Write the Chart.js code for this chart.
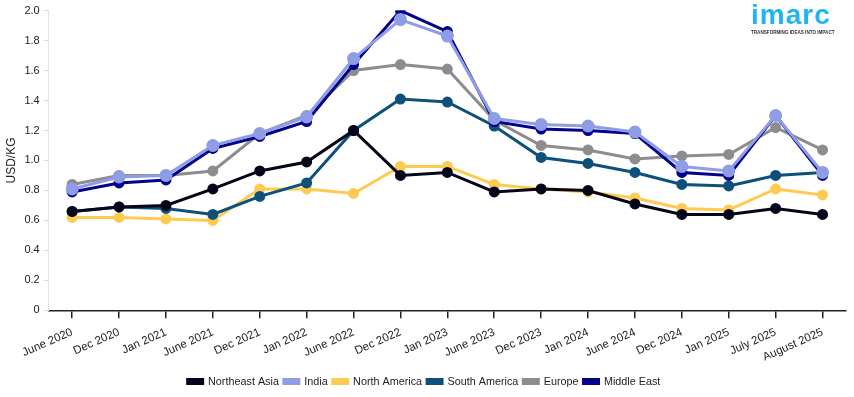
<!DOCTYPE html>
<html>
<head>
<meta charset="utf-8">
<script src="https://cdn.jsdelivr.net/npm/chart.js@4"></script>
<style>
  html, body { margin: 0; padding: 0; background: #fff; }
  #wrap { position: relative; width: 854px; height: 397px; }
  #logo { position: absolute; left: 751px; top: 0px; font-family: "Liberation Sans", Arial, sans-serif; }
  #logo .word { color: #1fb5ee; font-size: 28px; font-weight: bold; letter-spacing: 1px; line-height: 30px; }
  #logo .tag { color: #333; font-size: 4.6px; font-weight: bold; margin-top: 0px; white-space: nowrap; }
</style>
</head>
<body>
<div id="wrap">
  <canvas id="chart" width="854" height="397"></canvas>
  <div id="logo"><div class="word">imarc</div><div class="tag">TRANSFORMING IDEAS INTO IMPACT</div></div>
</div>
<script>
// periods on the x axis
const periods = ['June 2020', 'Dec 2020', 'Jan 2021', 'June 2021', 'Dec 2021', 'Jan 2022',
  'June 2022', 'Dec 2022', 'Jan 2023', 'June 2023', 'Dec 2023', 'Jan 2024', 'June 2024',
  'Dec 2024', 'Jan 2025', 'July 2025', 'August 2025'];

// prices, USD/KG
const northeastAsia = [0.66, 0.69, 0.70, 0.81, 0.93, 0.99, 1.20, 0.90, 0.92, 0.79, 0.81, 0.80, 0.71, 0.64, 0.64, 0.68, 0.64];
const india         = [0.81, 0.89, 0.90, 1.10, 1.18, 1.29, 1.68, 1.94, 1.83, 1.28, 1.24, 1.23, 1.19, 0.96, 0.93, 1.30, 0.92];
const northAmerica  = [0.62, 0.62, 0.61, 0.60, 0.81, 0.81, 0.78, 0.96, 0.96, 0.84, 0.81, 0.79, 0.75, 0.68, 0.67, 0.81, 0.77];
const southAmerica  = [0.66, 0.69, 0.68, 0.64, 0.76, 0.85, 1.20, 1.41, 1.39, 1.23, 1.02, 0.98, 0.92, 0.84, 0.83, 0.90, 0.92];
const europe        = [0.84, 0.90, 0.90, 0.93, 1.18, 1.30, 1.60, 1.64, 1.61, 1.27, 1.10, 1.07, 1.01, 1.03, 1.04, 1.22, 1.07];
const middleEast    = [0.79, 0.85, 0.87, 1.08, 1.16, 1.26, 1.64, 2.00, 1.86, 1.26, 1.21, 1.20, 1.18, 0.92, 0.90, 1.30, 0.90];

const yTicks = [0, 0.2, 0.4, 0.6, 0.8, 1.0, 1.2, 1.4, 1.6, 1.8, 2.0];

const mkSet = (label, data, color, radius = 4) => ({
  label,
  data,
  borderColor: color,
  backgroundColor: color,
  pointBackgroundColor: color,
  pointBorderColor: color,
  borderWidth: 3,
  pointRadius: radius,
  pointHoverRadius: radius,
  tension: 0
});

const datasets = [
  mkSet('Northeast Asia', northeastAsia, '#05051a'),
  mkSet('India', india, '#8f9ce6', 5),
  mkSet('North America', northAmerica, '#fecb52'),
  mkSet('South America', southAmerica, '#0d5079'),
  mkSet('Europe', europe, '#8e8c8e'),
  mkSet('Middle East', middleEast, '#02028a')
];
// stacking: yellow bottom, then teal, grey, black, navy, india on top
const order = { 'North America': 6, 'South America': 5, 'Europe': 4, 'Northeast Asia': 3, 'Middle East': 2, 'India': 1 };
datasets.forEach(d => { d.order = order[d.label]; });

Chart.defaults.font.family = '"Liberation Sans", Arial, sans-serif';
Chart.defaults.color = '#222';

new Chart(document.getElementById('chart'), {
  type: 'line',
  data: { labels: periods, datasets },
  options: {
    responsive: false,
    animation: false,
    layout: { padding: { top: 4, right: 6, left: 0, bottom: 0 } },
    scales: {
      x: {
        offset: true,
        grid: { display: true, drawOnChartArea: false, color: '#222', tickLength: 8, lineWidth: 1.5 },
        border: { color: '#222', width: 1.5 },
        ticks: { font: { size: 11.5 }, color: '#222', minRotation: 24, maxRotation: 24, padding: 7, autoSkip: false }
      },
      y: {
        min: 0,
        max: 2.0,
        afterBuildTicks: (axis) => { axis.ticks = yTicks.map(v => ({ value: v })); },
        grid: { display: true, drawOnChartArea: false, color: '#ddd', tickLength: 5 },
        border: { color: '#e4e4e4' },
        ticks: {
          font: { size: 11 }, color: '#222', padding: 4,
          callback: (v) => v === 0 ? '0' : Number(v).toFixed(1)
        },
        title: { display: true, text: 'USD/KG', font: { size: 12 }, color: '#222', padding: { bottom: 2 } }
      }
    },
    plugins: {
      legend: {
        position: 'bottom',
        labels: {
          boxWidth: 15, boxHeight: 4, padding: 5,
          font: { size: 10.8 }, color: '#222',
          sort: (a, b) => a.datasetIndex - b.datasetIndex
        }
      },
      tooltip: { enabled: false }
    }
  }
});
</script>
</body>
</html>
